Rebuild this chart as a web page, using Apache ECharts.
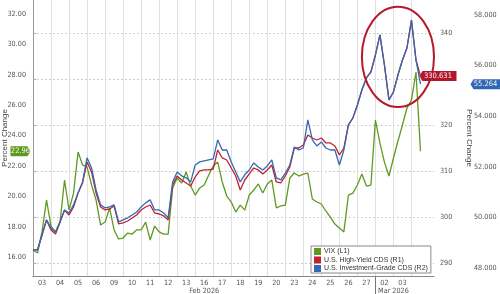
<!DOCTYPE html>
<html><head><meta charset="utf-8">
<script src="https://cdn.jsdelivr.net/npm/echarts@6/dist/echarts.min.js"></script>
<style>html,body{margin:0;padding:0;background:#fff}#c{width:500px;height:294px}</style>
</head><body><div id="c"></div><script>
// trading days shown on the x axis
const days = ['03','04','05','06','09','10','11','12','13','16','17','18','19','20','23','24','25','26','27','02','03'];
const pointsPerDay = 4;
const slotCount = 90;
const months = [{label:'Feb 2026', day: 9.5}, {label:'Mar 2026', day: 20}];
const monthBoundaryDay = 19;

const seriesNames = ['VIX (L1)', 'U.S. High-Yield CDS (R1)', 'U.S. Investment-Grade CDS (R2)'];
const vix = [16.46,16.26,17.65,19.75,18.04,17.65,18.30,21.07,19.09,20.21,
  22.91,22.06,21.92,20.74,19.75,18.11,18.30,19.23,17.78,17.19,
  17.25,17.58,17.51,17.78,17.78,18.30,17.12,18.04,17.65,17.51,
  17.51,20.54,21.20,20.87,21.60,20.67,20.08,20.54,20.74,21.40,
  21.99,22.25,20.94,20.02,19.62,18.96,19.42,19.09,20.08,20.41,
  20.81,20.21,20.81,21.07,19.23,19.36,19.42,21.20,21.53,21.33,
  21.46,21.53,19.82,19.62,19.49,19.03,18.63,18.17,17.91,17.65,
  20.08,20.21,20.74,21.46,20.67,20.74,25.02,23.50,22.25,21.33,
  22.52,23.64,24.69,25.81,26.34,28.18,22.96];
const hy = [292.83,292.83,296.09,299.35,297.17,296.30,298.91,301.52,300.43,302.17,
  305.22,307.39,311.96,309.78,305.22,302.17,301.52,301.74,302.39,298.48,
  298.70,299.13,299.78,300.43,301.52,302.17,302.61,300.87,300.65,300.22,
  299.35,306.96,308.91,308.04,307.39,306.74,308.70,310.00,310.22,310.22,
  310.43,314.57,312.83,312.39,310.65,308.91,305.87,308.04,309.35,310.65,
  310.22,309.35,310.22,311.30,307.61,307.39,308.91,310.87,315.00,315.00,
  315.65,317.83,317.17,316.74,317.17,316.09,316.09,315.43,313.48,315.00,
  320.00,321.52,324.35,327.61,330.22,331.52,335.22,339.57,333.04,325.43,
  327.17,330.87,334.13,336.74,342.83,334.13,330.631];
const ig = [48.71,48.71,49.30,49.90,49.58,49.42,49.82,50.29,50.17,50.49,
  50.96,51.40,52.35,51.95,51.08,50.49,50.37,50.41,50.49,49.82,
  49.90,49.98,50.09,50.21,50.41,50.57,50.69,50.29,50.29,50.17,
  49.98,51.40,51.79,51.64,51.56,51.40,52.07,52.19,52.23,52.27,
  52.31,53.06,52.66,52.66,52.19,51.79,51.40,51.68,51.87,52.15,
  51.99,51.87,52.03,52.27,51.56,51.48,51.75,52.07,52.78,52.66,
  52.74,53.85,53.06,52.82,52.98,52.74,52.66,52.66,52.07,52.66,
  53.65,53.93,54.44,55.04,55.51,55.75,56.42,57.21,56.02,54.64,
  54.96,55.63,56.22,56.70,57.80,56.22,55.264];

const vixTicks = [16,18,20,22,24,26,28,30,32];
const hyTicks = [290,300,310,320,330,340];
const igTicks = [48,50,52,54,56,58];
const vixRange = [14.75, 32.92];
const hyRange = [287.17, 347.17];
const igRange = [47.68, 58.59];

// annotation circle (data units: x index, R1 value)
const circle = {cx: 80.6, cy: 334.8, rx: 8.8, ry: 10.9};

const colors = {vix:'#5e9a22', hy:'#c0202f', ig:'#3569b0'};
const font = "'Liberation Sans', Arial, sans-serif";
const narrow = "'Liberation Sans Narrow', 'Arial Narrow', 'DejaVu Sans Condensed', sans-serif";

const categories = Array.from({length: slotCount}, (_, i) => String(i));
const monthIdx = months.map(m => Math.round(m.day * pointsPerDay));
const dayBounds = days.map((d, k) => k * pointsPerDay).filter(v => v > 0).concat([days.length * pointsPerDay]);

function tag(val, txt, color, path, w, dx, coordX) {
  return {
    symbol: path, symbolSize: [w, 10], symbolOffset: [dx, 0], silent: true, z: 20,
    itemStyle: {color: color},
    label: {show: true, position: 'inside', formatter: txt, color: '#f4f4f4', fontSize: 7.5, fontFamily: narrow},
    data: [{coord: [coordX, val]}]
  };
}
const last = vix.length - 1;
const axisText = {fontSize: 7.2, color: '#555', fontFamily: narrow};
const titleText = {fontSize: 8, color: '#444'};

const chart = echarts.init(document.getElementById('c'), null, {renderer: 'canvas'});
const option = {
  animation: false,
  textStyle: {fontFamily: font},
  grid: {left: 33, right: 66, top: 0, bottom: 18, containLabel: false, outerBoundsMode: 'none'},
  legend: {
    left: 311, top: 246, orient: 'vertical', data: seriesNames,
    backgroundColor: '#fff', borderColor: '#8a8a8a', borderWidth: 1, borderRadius: 0,
    padding: [2, 3, 1, 3], itemGap: 1.5, itemWidth: 7, itemHeight: 7, icon: 'rect',
    textStyle: {fontSize: 7, color: '#333', fontFamily: font, padding: [0,0,0,-2]}
  },
  xAxis: [{
    type: 'category', data: categories, boundaryGap: false,
    axisLine: {lineStyle: {color: '#888'}},
    axisTick: {show: false},
    axisLabel: Object.assign({
      interval: (i) => i % pointsPerDay === pointsPerDay / 2 && Math.floor(i / pointsPerDay) < days.length,
      formatter: (v, i) => days[Math.floor(i / pointsPerDay)] || '',
      margin: 4
    }, axisText),
    splitLine: {show: false}
  }, {
    type: 'category', data: categories, boundaryGap: false, position: 'bottom', offset: 8,
    axisLine: {show: false}, axisTick: {show: false}, splitLine: {show: false},
    axisLabel: Object.assign({
      interval: (i) => monthIdx.indexOf(i) >= 0,
      formatter: (v, i) => { const k = monthIdx.indexOf(i); return k >= 0 ? months[k].label : ''; },
      margin: 4
    }, axisText)
  }, {
    // helper value axis sharing the same span: day gridlines
    type: 'value', min: 0, max: slotCount - 1, position: 'bottom',
    axisLine: {show: false}, axisLabel: {show: false},
    axisTick: {show: true, customValues: dayBounds, length: 0, lineStyle: {color: '#e0e0e0'}},
    splitLine: {show: true, lineStyle: {color: '#e0e0e0', width: 1}}
  }, {
    // month boundary tick
    type: 'value', min: 0, max: slotCount - 1, position: 'bottom',
    axisLine: {show: false}, axisLabel: {show: false}, splitLine: {show: false},
    axisTick: {show: true, customValues: [monthBoundaryDay * pointsPerDay], length: 18, lineStyle: {color: '#777'}}
  }],
  yAxis: [{
    type: 'value', position: 'left', min: vixRange[0], max: vixRange[1],
    name: 'Percent Change', nameLocation: 'middle', nameGap: 24, nameRotate: 90, nameMoveOverlap: false,
    nameTextStyle: titleText,
    axisLine: {show: true, lineStyle: {color: '#999'}}, axisTick: {show: false},
    axisLabel: Object.assign({customValues: vixTicks, formatter: v => v.toFixed(2), margin: 7}, axisText),
    splitLine: {show: false}
  }, {
    type: 'value', position: 'right', min: hyRange[0], max: hyRange[1],
    name: 'Percent Change', nameLocation: 'middle', nameGap: 31, nameRotate: -90, nameMoveOverlap: false,
    nameTextStyle: titleText,
    axisLine: {show: false},
    axisTick: {show: true, customValues: hyTicks, length: 3, lineStyle: {color: '#aaa'}},
    axisLabel: Object.assign({customValues: hyTicks, margin: 6}, axisText),
    splitLine: {show: true, lineStyle: {color: '#bdbdbd', type: [1.5, 2.5], width: 1}}
  }, {
    type: 'value', position: 'right', offset: 32, min: igRange[0], max: igRange[1],
    axisLine: {show: false}, axisTick: {show: false},
    axisLabel: Object.assign({customValues: igTicks, formatter: v => v.toFixed(3), margin: 8}, axisText),
    splitLine: {show: false}
  }],
  series: [{
    name: seriesNames[0], type: 'line', data: vix, yAxisIndex: 0, showSymbol: false, symbol: 'none',
    lineStyle: {color: colors.vix, width: 1.3}, itemStyle: {color: colors.vix}, z: 2,
    markPoint: tag(vix[last], vix[last].toFixed(2), colors.vix, 'path://M0,0 L17,0 L20,5 L17,10 L0,10 Z', 20, -12.5, 0)
  }, {
    name: seriesNames[1], type: 'line', data: hy, yAxisIndex: 1, showSymbol: false, symbol: 'none',
    lineStyle: {color: colors.hy, width: 1.3}, itemStyle: {color: colors.hy}, z: 3,
    markPoint: tag(hy[last], hy[last].toFixed(3), '#b3172d', 'path://M0,5 L3,0 L37,0 L37,10 L3,10 Z', 37, 17.5, last)
  }, {
    name: seriesNames[2], type: 'line', data: ig, yAxisIndex: 2, showSymbol: false, symbol: 'none',
    lineStyle: {color: colors.ig, width: 1.3}, itemStyle: {color: colors.ig}, z: 4,
    markPoint: tag(ig[last], ig[last].toFixed(3), '#2f69b3', 'path://M0,5 L3,0 L30,0 L30,10 L3,10 Z', 30, 65, last)
  }]
};
chart.setOption(option);

// draw the red annotation ellipse through the chart's scales
const c0 = chart.convertToPixel({xAxisIndex: 0, yAxisIndex: 1}, [circle.cx, circle.cy]);
const c1 = chart.convertToPixel({xAxisIndex: 0, yAxisIndex: 1}, [circle.cx + circle.rx, circle.cy + circle.ry]);
chart.setOption({graphic: [{
  type: 'ellipse', shape: {cx: c0[0], cy: c0[1], rx: Math.abs(c1[0] - c0[0]), ry: Math.abs(c0[1] - c1[1])},
  style: {fill: 'none', stroke: '#b5192b', lineWidth: 2}, silent: true, z: 6
}]});
</script></body></html>
